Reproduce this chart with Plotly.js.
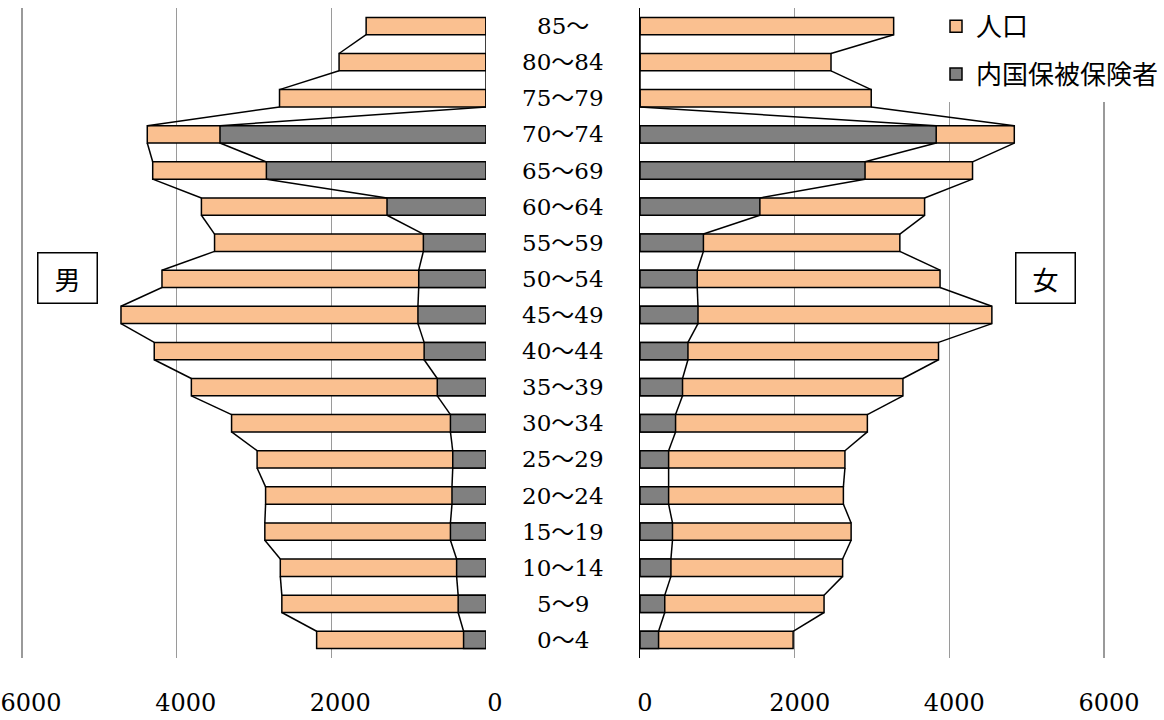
<!DOCTYPE html>
<html>
<head>
<meta charset="utf-8">
<script src="https://cdn.plot.ly/plotly-3.0.1.min.js"></script>
<style>html,body{margin:0;padding:0;background:#fff;}</style>
</head>
<body>
<div id="chart" style="width:1164px;height:720px;"></div>
<script>
// Age groups, bottom (youngest) to top (oldest)
const categories = ['0～4','5～9','10～14','15～19','20～24','25～29','30～34','35～39','40～44','45～49','50～54','55～59','60～64','65～69','70～74','75～79','80～84','85～'];
// Male: population and 内国保 insured
const malePop = [2190, 2640, 2660, 2860, 2850, 2960, 3290, 3810, 4290, 4720, 4190, 3510, 3680, 4310, 4380, 2670, 1900, 1550];
const maleIns = [290, 360, 380, 460, 440, 430, 460, 630, 800, 880, 870, 810, 1280, 2840, 3440, 0, 0, 0];
// Female: population and 内国保 insured
const femalePop = [1980, 2380, 2620, 2730, 2630, 2650, 2940, 3400, 3860, 4550, 3880, 3360, 3680, 4300, 4840, 2990, 2470, 3280];
const femaleIns = [240, 320, 400, 420, 370, 370, 460, 550, 620, 750, 740, 820, 1550, 2910, 3830, 0, 0, 0];
const tickValues = [0, 2000, 4000, 6000];
const tickLabels = ['0', '2000', '4000', '6000'];
const seriesNames = ['人口', '内国保被保険者'];

const idx = categories.map((c, i) => i);
const BARW = 0.48, H = BARW / 2;
const ORANGE = '#FAC090', GREY = '#808080';

function connector(vals, xa, ya) {
  const xs = [], ys = [];
  for (let i = 0; i < vals.length - 1; i++) {
    xs.push(vals[i], vals[i + 1], null);
    ys.push(i + H, i + 1 - H, null);
  }
  return {type: 'scatter', mode: 'lines', x: xs, y: ys, xaxis: xa, yaxis: ya,
    line: {color: '#000', width: 1.5}, showlegend: false, hoverinfo: 'skip'};
}
function bars(vals, color, name, xa, ya, show) {
  return {type: 'bar', orientation: 'h', x: vals, y: idx, xaxis: xa, yaxis: ya,
    width: BARW, name: name, legendgroup: name, showlegend: show, opacity: 1,
    marker: {color: color, line: {color: '#000', width: 1.5}}};
}

const data = [
  bars(malePop, ORANGE, seriesNames[0], 'x', 'y', false),
  bars(maleIns, GREY, seriesNames[1], 'x', 'y', false),
  bars(femalePop, ORANGE, seriesNames[0], 'x2', 'y2', true),
  bars(femaleIns, GREY, seriesNames[1], 'x2', 'y2', true),
  connector(malePop, 'x', 'y'), connector(maleIns, 'x', 'y'),
  connector(femalePop, 'x2', 'y2'), connector(femaleIns, 'x2', 'y2')
];

const W = 1164, TOP = 8, BOT = 62, PH = 720 - TOP - BOT;
const PX = 464 / 6000;            // pixels per unit
const EXT = 40;                   // small range padding so edge gridlines are drawn
const serif = 'DejaVu Serif, Liberation Serif, Noto Sans CJK JP, serif';
const xBase = {
  tickvals: tickValues, ticktext: tickLabels, showgrid: true, gridcolor: '#9a9a9a', gridwidth: 1.5,
  zeroline: false, showline: false, ticks: '', ticklabelstandoff: 28, ticklabeloverflow: 'allow',
  tickfont: {family: serif, size: 24, color: '#000'}, fixedrange: true
};
const yBase = {range: [-0.5, categories.length - 0.5], showticklabels: false, showgrid: false,
  zeroline: false, ticks: '', fixedrange: true};

const annotations = categories.map((c, i) => ({
  xref: 'paper', yref: 'y', x: 563 / W, y: i, text: c, showarrow: false,
  xanchor: 'center', yanchor: 'middle', font: {family: serif, size: 23, color: '#000'}
}));
[['男', 67], ['女', 1045]].forEach(([t, px]) => annotations.push({
  xref: 'paper', yref: 'paper', x: px / W, y: (720 - BOT - 278) / PH, text: t, showarrow: false,
  xanchor: 'center', yanchor: 'middle', width: 56, height: 47, borderpad: 1,
  bordercolor: '#000', borderwidth: 1.5, bgcolor: '#fff',
  font: {family: 'Noto Sans CJK JP, sans-serif', size: 26, color: '#000'}
}));

const layout = {
  width: W, height: 720, autosize: false,
  margin: {l: 0, r: 0, t: TOP, b: BOT, pad: 0},
  paper_bgcolor: '#fff', plot_bgcolor: 'rgba(0,0,0,0)',
  barmode: 'overlay', showlegend: true,
  xaxis: Object.assign({}, xBase, {domain: [(22 - EXT * PX) / W, 486 / W], range: [6000 + EXT, 0], anchor: 'y', ticklabelshift: -9}),
  yaxis: Object.assign({}, yBase, {anchor: 'x'}),
  xaxis2: Object.assign({}, xBase, {domain: [640 / W, (1104 + EXT * PX) / W], range: [0, 6000 + EXT], anchor: 'y2', ticklabelshift: 5}),
  yaxis2: Object.assign({}, yBase, {anchor: 'x2', showline: true, linecolor: '#000', linewidth: 1.5}),
  legend: {x: 936 / W, xanchor: 'left', y: 1.008, yanchor: 'top', bgcolor: 'rgba(0,0,0,0)',
    borderwidth: 0, traceorder: 'grouped', tracegroupgap: 11,
    font: {family: 'Noto Sans CJK JP, sans-serif', size: 26, color: '#000'}},
  shapes: [{type: 'rect', xref: 'paper', yref: 'paper', x0: 938 / W, x1: 1.0,
    y0: (720 - BOT - 102) / PH, y1: 1.02, fillcolor: '#fff', line: {width: 0}, layer: 'above'}],
  annotations: annotations
};

Plotly.newPlot('chart', data, layout, {displayModeBar: false, staticPlot: true});
</script>
</body>
</html>
